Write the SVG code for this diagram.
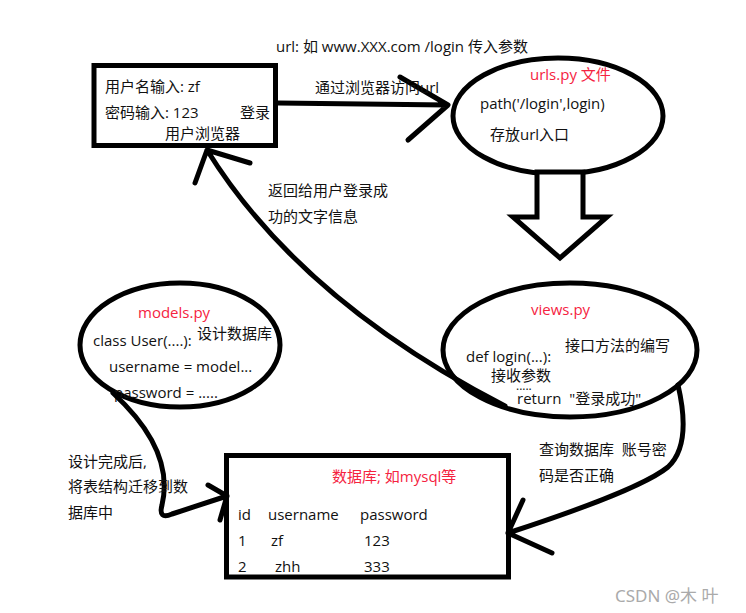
<svg xmlns="http://www.w3.org/2000/svg" width="746" height="613" viewBox="0 0 746 613">
<style>
.t{font-family:"Open Sans","Noto Sans CJK SC",sans-serif;font-size:15px;fill:#111}
.r{fill:#f5233f}
.s{fill:none;stroke:#000;stroke-width:5;stroke-linecap:round;stroke-linejoin:round}
.f{fill:#fff;stroke:#000;stroke-width:5}
</style>
<rect width="746" height="613" fill="#fff"/>
<g id="browser">
<rect class="f" x="94" y="65.5" width="181.5" height="80"/>
<text class="t" x="105" y="92">用户名输入: zf</text>
<text class="t" x="105" y="118">密码输入: 123</text>
<text class="t" x="240" y="118">登录</text>
<text class="t" x="165" y="139">用户浏览器</text>
</g>
<g id="urls">
<ellipse class="f" cx="558" cy="116" rx="105" ry="58"/>
<text class="t r" x="530" y="80">urls.py 文件</text>
<text class="t" x="480" y="109">path('/login',login)</text>
<text class="t" x="490" y="140">存放url入口</text>
</g>
<g id="views">
<ellipse class="f" cx="570" cy="350" rx="127" ry="67"/>
<text class="t r" x="531" y="315">views.py</text>
<text class="t" x="466" y="362">def login(...):</text>
<text class="t" x="565" y="351">接口方法的编写</text>
<text class="t" x="491" y="381">接收参数</text>
<text class="t" x="516" y="390" style="font-size:12px">.....</text>
<text class="t" x="517" y="404">return&#160;&#160;"登录成功"</text>
</g>
<g id="models">
<ellipse class="f" cx="180" cy="345" rx="100" ry="62"/>
<text class="t r" x="138" y="318">models.py</text>
<text class="t" x="93" y="346">class User(....):</text>
<text class="t" x="197" y="339">设计数据库</text>
<text class="t" x="109" y="372">username = model...</text>
<text class="t" x="114" y="398">password = .....</text>
</g>
<g id="database">
<rect class="f" x="226.5" y="455.5" width="282" height="121.5"/>
<text class="t r" x="332" y="482">数据库; 如mysql等</text>
<text class="t" x="238" y="520">id</text>
<text class="t" x="268" y="520">username</text>
<text class="t" x="360" y="520">password</text>
<text class="t" x="238" y="546">1</text>
<text class="t" x="271" y="546">zf</text>
<text class="t" x="364" y="546">123</text>
<text class="t" x="238" y="572">2</text>
<text class="t" x="275" y="572">zhh</text>
<text class="t" x="364" y="572">333</text>
</g>
<g id="connectors">
<path class="s" d="M278,103 L448,105 M400,77 L448,105 L408,140"/>
<path class="f" d="M537,172 L583,172 L583,217 L607,217 L560,258 L513,217 L537,217 Z"/>
<path class="s" d="M505,406 Q300,300 207,150 M250,163 L207,150 L195,183"/>
<path class="s" d="M113,393 Q175,450 162,505 Q158,520 172,514 L227,496 M208,485 L227,496 L220,520"/>
<path class="s" d="M678,385 Q692,445 668,467 Q640,490 508,533 M523,500 L508,533 L552,553"/>
</g>
<g id="labels">
<text class="t" x="276" y="52">url: 如 www.XXX.com /login 传入参数</text>
<text class="t" x="315" y="93">通过浏览器访问url</text>
<text class="t" x="268" y="196">返回给用户登录成</text>
<text class="t" x="268" y="222">功的文字信息</text>
<text class="t" x="68" y="467">设计完成后,</text>
<text class="t" x="68" y="492">将表结构迁移到数</text>
<text class="t" x="68" y="518">据库中</text>
<text class="t" x="539" y="455">查询数据库&#160;&#160;账号密</text>
<text class="t" x="539" y="481">码是否正确</text>
<text x="615" y="602" style="font-family:'Noto Sans','Noto Sans CJK SC',sans-serif;font-size:17px;fill:#aaa">CSDN @木 叶</text>
</g>
</svg>
